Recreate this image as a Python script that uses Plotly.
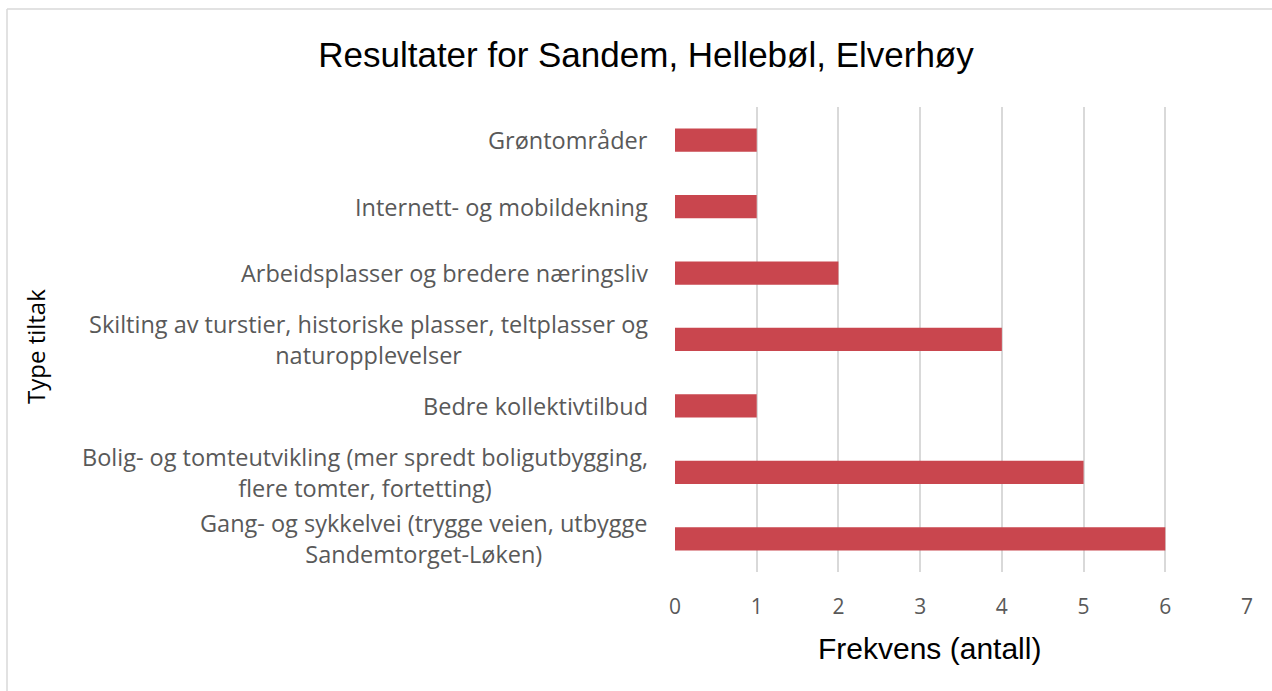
import plotly.graph_objects as go

categories = [
    "Gang- og sykkelvei (trygge veien, utbygge<br>Sandemtorget-Løken)",
    "Bolig- og tomteutvikling (mer spredt boligutbygging,<br>flere tomter, fortetting)",
    "Bedre kollektivtilbud",
    "Skilting av turstier, historiske plasser, teltplasser og<br>naturopplevelser",
    "Arbeidsplasser og bredere næringsliv",
    "Internett- og mobildekning",
    "Grøntområder",
]
values = [6, 5, 1, 4, 2, 1, 1]
x_ticks = [0, 1, 2, 3, 4, 5, 6, 7]

title_text = "Resultater for Sandem, Hellebøl, Elverhøy"
x_title = "Frekvens (antall)"
y_title = "Type tiltak"

W, H = 1272, 691
L, R, T, B = 675, 25, 107, 119
pw, ph = W - L - R, H - T - B

def px_to_paper_x(px):
    return (px - L) / pw

def px_to_paper_y(py):
    return (H - B - py) / ph

fig = go.Figure(go.Bar(
    x=values,
    y=list(range(len(categories))),
    orientation="h",
    marker=dict(color="#c9464e", line=dict(width=0)),
    width=0.35,
))

annotations = []
for i, c in enumerate(categories):
    annotations.append(dict(
        x=0, xref="paper", y=i, yref="y", text=c, showarrow=False,
        xanchor="right", yanchor="middle", align="center", xshift=-25,
        font=dict(family="Open Sans", size=23.5, color="#595959"),
    ))
annotations.append(dict(
    x=px_to_paper_x(35), xref="paper", y=px_to_paper_y(347), yref="paper",
    text=y_title, showarrow=False, textangle=-90, xanchor="center", yanchor="middle",
    font=dict(family="Open Sans", size=24, color="#000000"),
))
annotations.append(dict(
    x=px_to_paper_x(929), xref="paper", y=px_to_paper_y(648), yref="paper",
    text=x_title, showarrow=False, xanchor="center", yanchor="middle",
    font=dict(family="Liberation Sans", size=30, color="#000000"),
))

fig.update_layout(
    width=W, height=H,
    margin=dict(l=L, r=R, t=T, b=B),
    paper_bgcolor="white", plot_bgcolor="white",
    title=dict(text=title_text, x=646 / W, xanchor="center", y=1 - 55 / H, yanchor="middle",
               font=dict(family="Liberation Sans", size=35, color="#000000")),
    xaxis=dict(range=[0, 7], tickvals=x_ticks, showgrid=True, gridcolor="#d9d9d9", gridwidth=1.5,
               zeroline=False, showline=False, ticks="",
               tickfont=dict(family="Open Sans", size=21, color="#595959"),
               ticklabelstandoff=20),
    yaxis=dict(range=[-0.5, len(categories) - 0.5], showticklabels=False, showgrid=False,
               zeroline=False, showline=False, ticks=""),
    annotations=annotations,
    showlegend=False,
    bargap=0.65,
    shapes=[
        dict(type="line", xref="paper", yref="paper",
             x0=px_to_paper_x(7), x1=px_to_paper_x(W), y0=px_to_paper_y(9), y1=px_to_paper_y(9),
             line=dict(color="#d9d9d9", width=1.5)),
        dict(type="line", xref="paper", yref="paper",
             x0=px_to_paper_x(7), x1=px_to_paper_x(7), y0=px_to_paper_y(9), y1=px_to_paper_y(H),
             line=dict(color="#d9d9d9", width=1.5)),
    ],
)

fig.write_html("out.html", config={"displayModeBar": False},
               post_script="document.body.style.margin='0';document.body.style.overflow='hidden';")
